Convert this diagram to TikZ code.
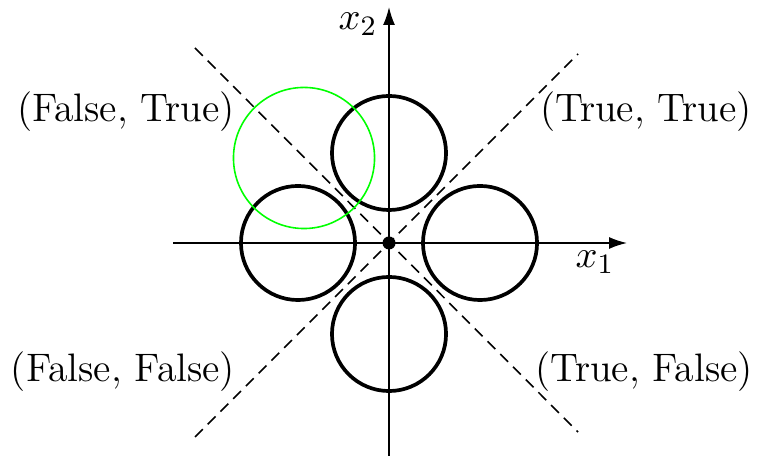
\documentclass[tikz,border=0pt]{standalone}
\usetikzlibrary{arrows.meta}
\begin{document}
\begin{tikzpicture}[x=0.01cm,y=-0.01cm,
  axis/.style={line width=0.45pt,-{Latex[length=0.18cm,width=0.12cm]}},
  ring/.style={draw,line width=1.05pt},
  sep/.style={draw,line width=0.45pt,dash pattern=on 0.11cm off 0.07cm},
  lbl/.style={font=\fontsize{11.3}{13.5}\selectfont,inner sep=0pt}]
\useasboundingbox (0,0) rectangle (762,456);
\coordinate (o) at (389,243);
\coordinate (xs) at (173,243);
\coordinate (xe) at (627,243);
\coordinate (ys) at (389,456);
\coordinate (ye) at (389,7);
\draw[axis] (xs) -- (xe);
\draw[axis] (ys) -- (ye);
\coordinate (d1a) at (195,48);
\coordinate (d1b) at (578,432);
\coordinate (d2a) at (195,437);
\coordinate (d2b) at (578,54);
\draw[sep] (d1a) -- (d1b);
\draw[sep] (d2a) -- (d2b);
\node[ring,circle,minimum size=1.14cm,inner sep=0pt] (ct) at (389,153) {};
\node[ring,circle,minimum size=1.14cm,inner sep=0pt] (cl) at (298,243) {};
\node[ring,circle,minimum size=1.14cm,inner sep=0pt] (cr) at (480,243) {};
\node[ring,circle,minimum size=1.14cm,inner sep=0pt] (cb) at (389,334) {};
\node[draw=green,line width=0.45pt,circle,minimum size=1.41cm,inner sep=0pt] (cg) at (304,158) {};
\fill (o) circle[radius=0.065cm];
\node[lbl] (x2) at (358,24) {$x_2$};
\node[lbl] (x1) at (595,262) {$x_1$};
\node[lbl] (ft) at (126,112) {(False, True)};
\node[lbl] (tt) at (646,112) {(True, True)};
\node[lbl] (ff) at (123,372) {(False, False)};
\node[lbl] (tf) at (644,372) {(True, False)};
\end{tikzpicture}
\end{document}
